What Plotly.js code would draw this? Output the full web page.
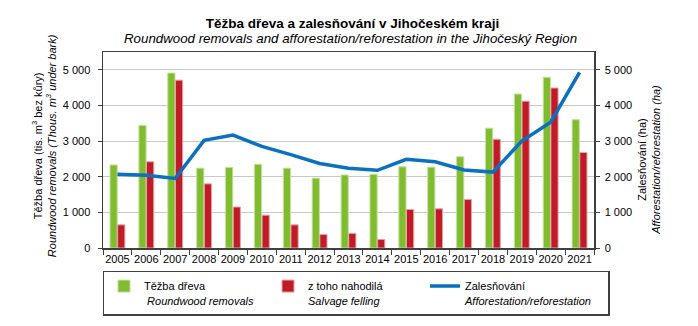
<!DOCTYPE html>
<html>
<head>
<meta charset="utf-8">
<script src="https://cdn.plot.ly/plotly-3.0.1.min.js"></script>
<style>html,body{margin:0;padding:0;background:#fff;}#chart{width:698px;height:326px;}</style>
</head>
<body>
<div id="chart"></div>
<script>
const years = ['2005','2006','2007','2008','2009','2010','2011','2012','2013','2014','2015','2016','2017','2018','2019','2020','2021'];
const roundwood = [2330,3440,4910,2240,2260,2350,2240,1960,2050,2070,2280,2270,2560,3360,4320,4790,3600];
const salvage = [650,2420,4710,1800,1150,920,650,380,410,240,1080,1100,1360,3050,4120,4490,2680];
const afforestation = [2070,2040,1950,3020,3170,2850,2620,2370,2240,2180,2490,2420,2190,2130,3000,3530,4930];

const FONT = 'Liberation Sans, Arial, sans-serif';
const traces = [
  {type:'bar', x:years, y:roundwood, name:'Těžba dřeva<br> <i>Roundwood removals</i>', legendwidth:119,
   marker:{color:'#80bc30', line:{color:'#c4e09a', width:1}}, hoverinfo:'y'},
  {type:'bar', x:years, y:salvage, name:'z toho nahodilá<br><i>Salvage felling</i>', legendwidth:112,
   marker:{color:'#c01c28', line:{color:'#e8a0a6', width:1}}, hoverinfo:'y'},
  {type:'scatter', mode:'lines', x:years, y:afforestation, yaxis:'y2', name:'Zalesňování<br><i>Afforestation/reforestation</i>', legendwidth:138,
   line:{color:'#0a70c0', width:3.5}, hoverinfo:'y'}
];

const layout = {
  width:698, height:326,
  margin:{l:103, r:104, t:52, b:78, autoexpand:false},
  paper_bgcolor:'#fff', plot_bgcolor:'#fff',
  font:{family:FONT, size:11, color:'#000'},
  separators:', ',
  barmode:'group', bargap:0.47, bargroupgap:0.06,
  showlegend:true,
  title:{text:'<b>Těžba dřeva a zalesňování v Jihočeském kraji</b>',
         font:{family:FONT, size:13.5, color:'#000'}, x:0.505, xanchor:'center', y:0.929, yanchor:'middle'},
  xaxis:{type:'category', showline:true, linecolor:'#404040', linewidth:1.5, mirror:true,
         ticks:'outside', tickson:'boundaries', ticklen:5, tickcolor:'#404040', tickangle:0,
         tickfont:{size:11}, showgrid:false, fixedrange:true},
  yaxis:{range:[0,5500], tickvals:[0,1000,2000,3000,4000,5000], tickformat:',d',
         showline:true, linecolor:'#404040', linewidth:1.5, ticks:'outside', ticklen:4, tickcolor:'#404040',
         gridcolor:'#c8c8c8', gridwidth:1, zeroline:false, tickfont:{size:11}, ticklabelstandoff:5},
  yaxis2:{overlaying:'y', side:'right', range:[0,5500], tickvals:[0,1000,2000,3000,4000,5000], tickformat:',d',
         showline:true, linecolor:'#404040', linewidth:1.5, ticks:'outside', ticklen:4, tickcolor:'#404040',
         showgrid:false, zeroline:false, tickfont:{size:11}, ticklabelstandoff:3},
  annotations:[
    {text:'<i>Roundwood removals and afforestation/reforestation in the Jihočeský Region</i>',
     xref:'paper', yref:'paper', x:0.505, y:1.071, xanchor:'center', yanchor:'middle',
     showarrow:false, font:{size:13.3}},
    {text:'Těžba dřeva (tis. m<sup>3</sup> bez kůry)<br><i>Roundwood removals (Thous. m<sup>3</sup> under bark)</i>',
     xref:'paper', yref:'paper', x:-0.12, y:0.52, xanchor:'center', yanchor:'middle', textangle:-90,
     showarrow:false, font:{size:11}},
    {text:'Zalesňování (ha)<br><i>Afforestation/reforestation (ha)</i>',
     xref:'paper', yref:'paper', x:1.112, y:0.45, xanchor:'center', yanchor:'middle', textangle:-90,
     showarrow:false, font:{size:11}}
  ],
  legend:{orientation:'h', x:-0.001, xanchor:'left', y:-0.117, yanchor:'top',
          bordercolor:'#404040', borderwidth:1.5, bgcolor:'#fff',
          font:{size:11}, entrywidthmode:'pixels', valign:'top',
          itemwidth:30, tracegroupgap:0, traceorder:'normal'}
};

Plotly.newPlot('chart', traces, layout, {staticPlot:true, displayModeBar:false});
</script>
</body>
</html>
